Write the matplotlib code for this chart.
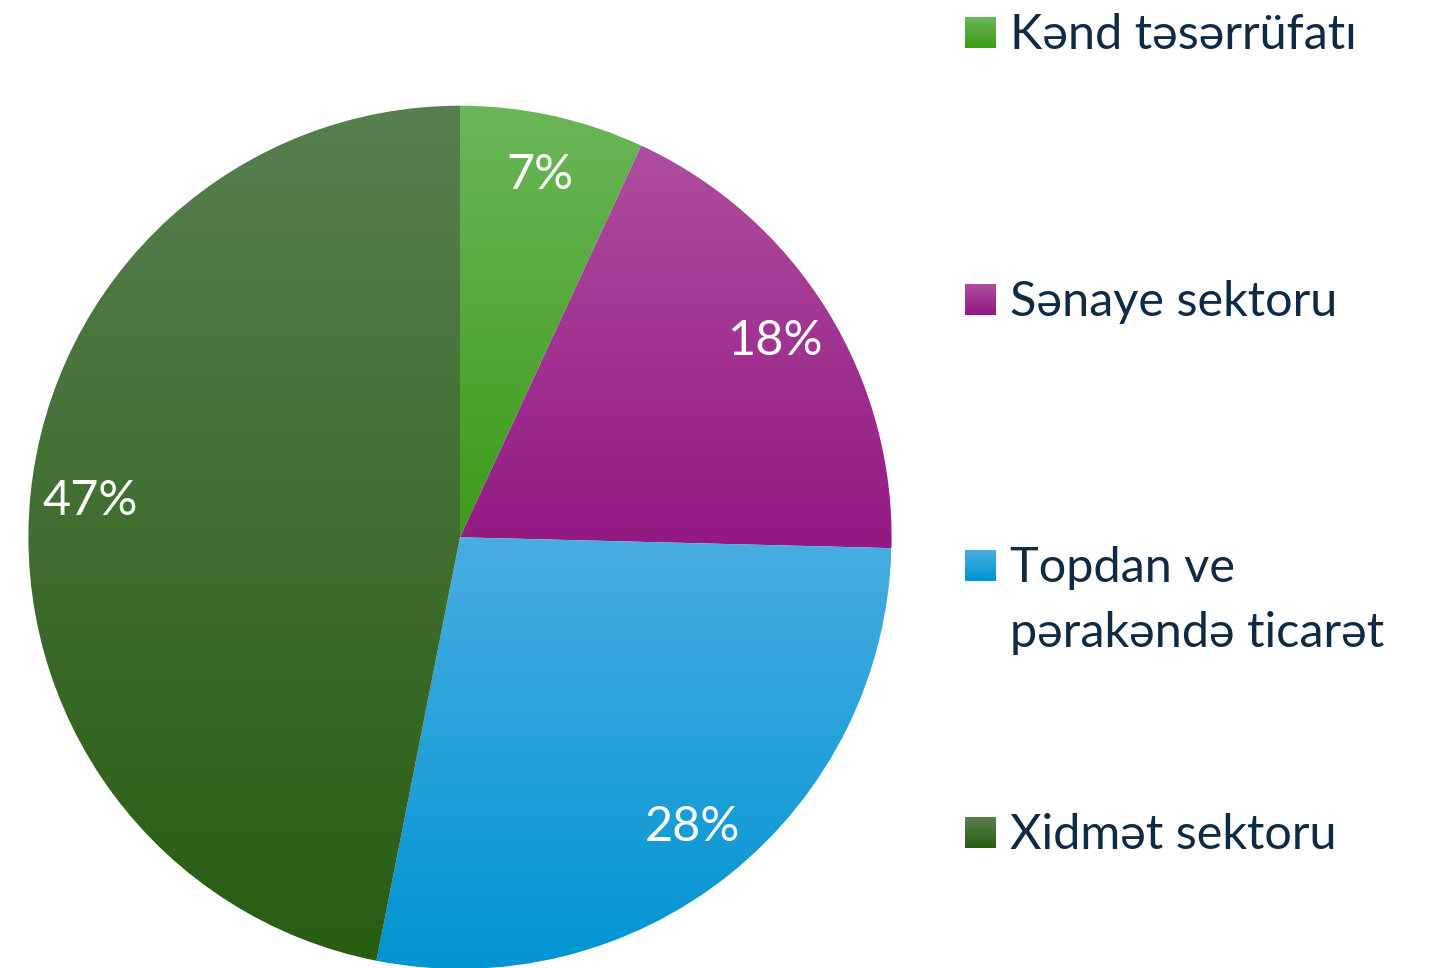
import matplotlib
matplotlib.use("Agg")
import matplotlib.pyplot as plt
import numpy as np
from matplotlib.colors import LinearSegmentedColormap

# data
categories = ["Kənd təsərrüfatı", "Sənaye sektoru", "Topdan ve\npərakəndə ticarət", "Xidmət sektoru"]
shares = [6.9, 18.5, 27.7, 46.9]
pct_labels = ["7%", "18%", "28%", "47%"]

# gradient colours (top, bottom) per slice
grad_top = ["#6bb658", "#ae4e9e", "#48ade1", "#587f4f"]
grad_bottom = ["#3c9c1a", "#931883", "#0095d3", "#285d12"]

W, H = 1433, 968
fig = plt.figure(figsize=(W / 100, H / 100), dpi=100)
ax = fig.add_axes([0, 0, 1, 1])

font = ["Lato", "DejaVu Sans"]
txt_color = "#0f2a44"
fs = 35

cx, cy, rad = 460, H - 537.3, 431.6
wedges, _, autotexts = ax.pie(shares, center=(cx, cy), radius=rad, startangle=90,
                              counterclock=False, autopct=lambda p: "", pctdistance=0.86,
                              wedgeprops=dict(linewidth=0))

# vertical gradient fill inside each slice
for i, w in enumerate(wedges):
    ext = w.get_path().get_extents()
    cmap = LinearSegmentedColormap.from_list("g%d" % i, [grad_bottom[i], grad_top[i]])
    grad = np.linspace(0, 1, 256).reshape(-1, 1)
    im = ax.imshow(grad, cmap=cmap, origin="lower", aspect="auto",
                   extent=[ext.x0, ext.x1, ext.y0, ext.y1], zorder=2)
    im.set_clip_path(w)
    w.set_facecolor("none")

for t, lab in zip(autotexts, pct_labels):
    t.set_text(lab)
    t.set_color("white")
    t.set_fontsize(fs)
    t.set_family(font)
    t.set_zorder(5)

# legend drawn by hand
leg_top = [17, 284, 550, 817]
sq = 31
for i, lab in enumerate(categories):
    y0 = H - leg_top[i] - sq
    cmap = LinearSegmentedColormap.from_list("l%d" % i, [grad_bottom[i], grad_top[i]])
    ax.imshow(np.linspace(0, 1, 64).reshape(-1, 1), cmap=cmap, origin="lower", aspect="auto",
              extent=[965, 965 + sq, y0, y0 + sq], zorder=3)
    for k, ln in enumerate(lab.split("\n")):
        ax.text(1010, y0 - 1 - k * 65, ln, fontsize=fs, family=font,
                color=txt_color, ha="left", va="baseline", zorder=4)

ax.set_xlim(0, W)
ax.set_ylim(0, H)
ax.set_aspect("equal")
ax.axis("off")

fig.savefig("out.png", dpi=100, facecolor="white")
